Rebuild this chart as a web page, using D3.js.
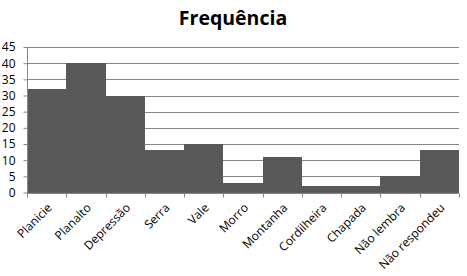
<!DOCTYPE html>
<html>
<head>
<meta charset="utf-8">
<script src="https://cdn.jsdelivr.net/npm/d3@7"></script>
<style>
  body { margin: 0; background: #fff; }
  svg { display: block; font-family: "Open Sans", "DejaVu Sans", sans-serif; }
</style>
</head>
<body>
<script>
// categories and counts
var categories = ["Planicie", "Planalto", "Depressão", "Serra", "Vale", "Morro",
  "Montanha", "Cordilheira", "Chapada", "Não lembra", "Não respondeu"]
var counts = [32, 40, 30, 13, 15, 3, 11, 2, 2, 5, 13]
var y_ticks = [0, 5, 10, 15, 20, 25, 30, 35, 40, 45]

var svg_width = 467
var svg_height = 276

var margin = {left: 27, right: 8, top: 47, bottom: 83.5}
var plot_w = svg_width - margin.left - margin.right
var plot_h = svg_height - margin.top - margin.bottom

var svg = d3.select("body")
  .append("svg")
  .attr("width", svg_width)
  .attr("height", svg_height)

// dithered fill like the original
var defs = svg.append("defs")
var pat = defs.append("pattern")
  .attr("id", "dots")
  .attr("width", 2)
  .attr("height", 2)
  .attr("patternUnits", "userSpaceOnUse")
pat.append("rect").attr("width", 2).attr("height", 2).attr("fill", "#565656")
pat.append("rect").attr("width", 1).attr("height", 1).attr("fill", "#626262")

var x_scale = d3.scaleBand()
  .domain(categories)
  .range([margin.left, margin.left + plot_w])
  .padding(0)

var y_scale = d3.scaleLinear()
  .domain([0, 45])
  .range([margin.top + plot_h, margin.top])

// title
svg.append("text")
  .attr("x", 233)
  .attr("y", 25)
  .attr("text-anchor", "middle")
  .attr("font-size", 19.5)
  .attr("font-weight", "bold")
  .attr("fill", "#000")
  .text("Frequência")

// gridlines
svg.append("g")
  .selectAll("line")
  .data(y_ticks.slice(1))
  .enter()
  .append("line")
  .attr("x1", margin.left)
  .attr("x2", margin.left + plot_w)
  .attr("y1", function(d) { return Math.round(y_scale(d)) + 0.5 })
  .attr("y2", function(d) { return Math.round(y_scale(d)) + 0.5 })
  .attr("stroke", "#868686")
  .attr("stroke-width", 1)

// bars, snapped to whole pixels so neighbours meet without seams
svg.append("g")
  .attr("shape-rendering", "crispEdges")
  .selectAll("rect")
  .data(counts)
  .enter()
  .append("rect")
  .attr("x", function(d, i) { return Math.round(x_scale(categories[i])) })
  .attr("width", function(d, i) {
    return Math.round(x_scale(categories[i]) + x_scale.bandwidth()) - Math.round(x_scale(categories[i]))
  })
  .attr("y", function(d) { return Math.round(y_scale(d)) })
  .attr("height", function(d) { return Math.round(y_scale(0)) - Math.round(y_scale(d)) })
  .attr("fill", "url(#dots)")

// y axis
var y_axis = d3.axisLeft(y_scale)
  .tickValues(y_ticks)
  .tickSize(4)
  .tickPadding(8)

var gy = svg.append("g")
  .attr("transform", "translate(" + (margin.left + 0.5) + ",0)")
  .call(y_axis)
gy.select(".domain").attr("stroke", "#868686").attr("d", "M0," + margin.top + "V" + (margin.top + plot_h))
gy.selectAll(".tick line").attr("stroke", "#868686")
gy.selectAll(".tick text")
  .attr("font-size", 12)
  .attr("fill", "#000")
  .attr("font-family", "Open Sans, DejaVu Sans, sans-serif")

// x axis: line plus ticks at category boundaries
var base_y = Math.round(y_scale(0)) + 0.5
svg.append("line")
  .attr("x1", margin.left)
  .attr("x2", margin.left + plot_w)
  .attr("y1", base_y)
  .attr("y2", base_y)
  .attr("stroke", "#868686")

var bounds = categories.map(function(c) { return x_scale(c) })
bounds.push(margin.left + plot_w)
svg.append("g")
  .selectAll("line")
  .data(bounds)
  .enter()
  .append("line")
  .attr("x1", function(d) { return Math.round(d) + 0.5 })
  .attr("x2", function(d) { return Math.round(d) + 0.5 })
  .attr("y1", base_y)
  .attr("y2", base_y + 4)
  .attr("stroke", "#868686")

// rotated category labels, baseline ending just under each bar centre
svg.append("g")
  .selectAll("text")
  .data(categories)
  .enter()
  .append("text")
  .attr("transform", function(d) {
    var cx = x_scale(d) + x_scale.bandwidth() / 2 + 6
    return "translate(" + cx + "," + (base_y + 15) + ") rotate(-45)"
  })
  .attr("text-anchor", "end")
  .attr("font-size", 12)
  .attr("fill", "#000")
  .text(function(d) { return d })
</script>
</body>
</html>
